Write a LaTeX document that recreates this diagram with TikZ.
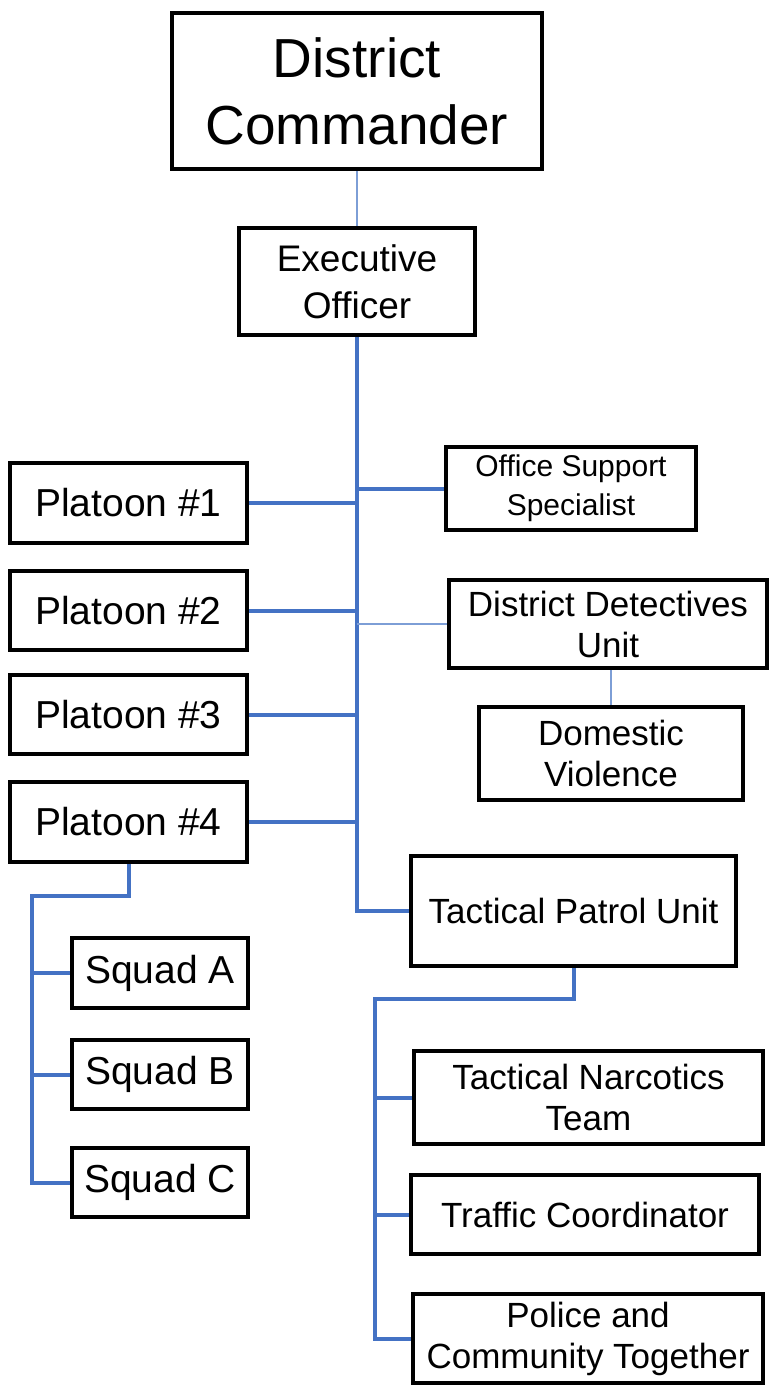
\documentclass[tikz,border=0pt]{standalone}
\usepackage{fontspec}
\setmainfont{Liberation Sans}
\usetikzlibrary{backgrounds}
\definecolor{lnblue}{HTML}{4472C4}
\definecolor{thinblue}{RGB}{125,158,214}
\tikzset{
  orgbox/.style={draw=black, line width=3.3pt, inner sep=0pt, align=center, fill=white},
  thick link/.style={draw=lnblue, line width=4pt},
  thin link/.style={draw=thinblue, line width=2pt},
  fA/.style={font=\fontsize{55}{67}\selectfont},
  fB/.style={font=\fontsize{37}{47}\selectfont},
  fC/.style={font=\fontsize{39}{45}\selectfont},
  fD/.style={font=\fontsize{35}{41}\selectfont},
  fE/.style={font=\fontsize{30}{39}\selectfont},
}
\begin{document}
\begin{tikzpicture}[x=1pt,y=-1pt]
\useasboundingbox (0,0) rectangle (769,1385);
% nodes
\node[orgbox,fA,minimum width=370pt,minimum height=156pt] (DC) at (357,91) {District\\Commander};
\node[orgbox,fB,minimum width=236pt,minimum height=107pt] (EO) at (357,281.5) {Executive\\Officer};
\node[orgbox,fC,minimum width=237pt,minimum height=80pt] (P1) at (128.5,503) {Platoon \#1};
\node[orgbox,fC,minimum width=237pt,minimum height=79pt] (P2) at (128.5,610.5) {Platoon \#2};
\node[orgbox,fC,minimum width=237pt,minimum height=79pt] (P3) at (128.5,714.5) {Platoon \#3};
\node[orgbox,fC,minimum width=237pt,minimum height=80pt] (P4) at (128.5,822) {Platoon \#4};
\node[orgbox,fE,minimum width=250pt,minimum height=83pt] (OSS) at (571,488.5) {Office Support\\Specialist};
\node[orgbox,fD,minimum width=318pt,minimum height=88pt] (DDU) at (608,624) {District Detectives\\Unit};
\node[orgbox,fD,minimum width=264pt,minimum height=93pt] (DV) at (611,753.5) {Domestic\\Violence};
\node[orgbox,fD,minimum width=325pt,minimum height=110pt] (TPU) at (573.5,911) {Tactical Patrol Unit};
\node[orgbox,fC,minimum width=176pt,minimum height=70pt] (SA) at (160,973) {Squad A};
\node[orgbox,fC,minimum width=176pt,minimum height=69pt] (SB) at (160,1074.5) {Squad B};
\node[orgbox,fC,minimum width=176pt,minimum height=69pt] (SC) at (160,1182.5) {Squad C};
\node[orgbox,fD,minimum width=349pt,minimum height=93pt] (TNT) at (588.5,1097.5) {Tactical Narcotics\\Team};
\node[orgbox,fD,minimum width=348pt,minimum height=79pt] (TC) at (585,1214.5) {Traffic Coordinator};
\node[orgbox,fD,minimum width=350pt,minimum height=89pt] (PACT) at (588,1338.5) {Police and\\Community Together};
% connectors
\begin{scope}[on background layer]
\draw[thin link] (DC.south) -- (EO.north);
\draw[thick link] (EO.south) |- (TPU.west);
\draw[thick link] (P1.east) -- (P1.east -| EO.south);
\draw[thick link] (P2.east) -- (P2.east -| EO.south);
\draw[thick link] (P3.east) -- (P3.east -| EO.south);
\draw[thick link] (P4.east) -- (P4.east -| EO.south);
\draw[thick link] (OSS.west) -- (OSS.west -| EO.south);
\draw[thin link] (DDU.west) -- (DDU.west -| EO.south);
\draw[thin link] (DDU.south -| DV.north) -- (DV.north);
\coordinate (sq) at (32,896);
\draw[thick link] (P4.south) |- (sq) -- (sq |- SC.west) -- (SC.west);
\draw[thick link] (sq |- SA.west) -- (SA.west);
\draw[thick link] (sq |- SB.west) -- (SB.west);
\coordinate (tp) at (375,999);
\draw[thick link] (TPU.south) |- (tp) -- (tp |- PACT.west) -- (PACT.west);
\draw[thick link] (tp |- TNT.west) -- (TNT.west);
\draw[thick link] (tp |- TC.west) -- (TC.west);
\end{scope}
\end{tikzpicture}
\end{document}
